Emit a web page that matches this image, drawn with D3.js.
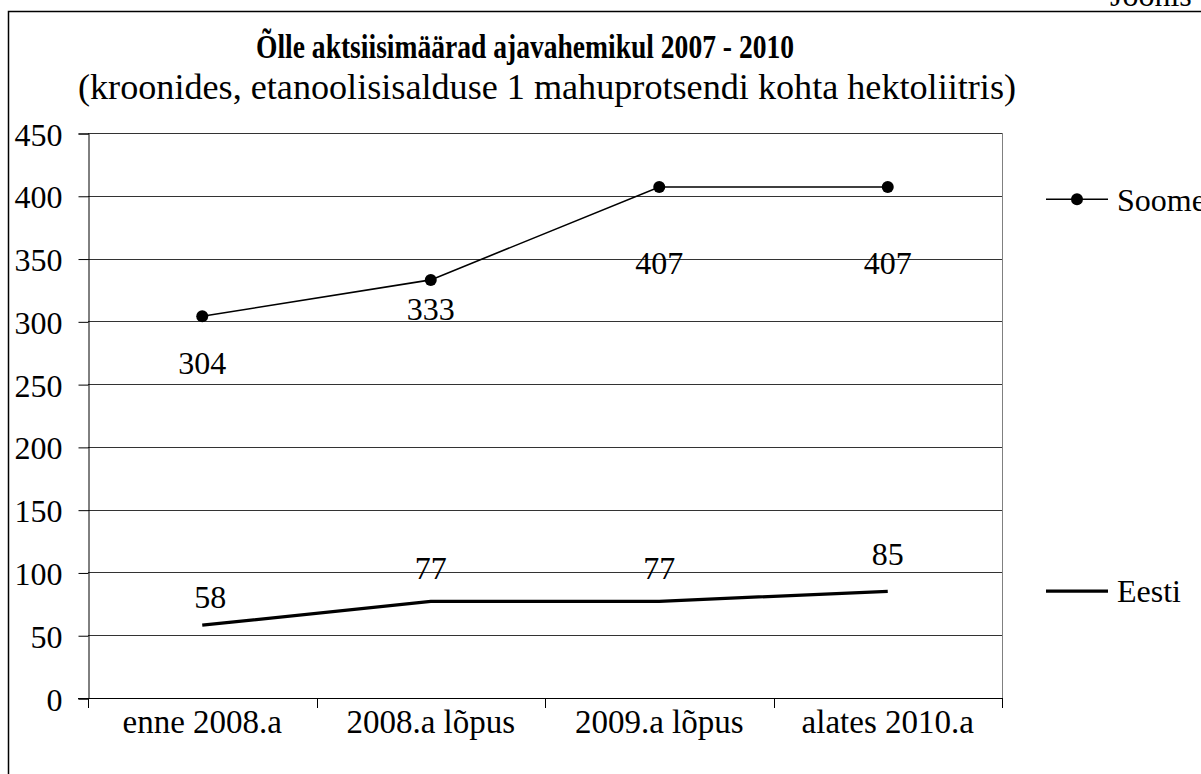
<!DOCTYPE html>
<html>
<head>
<meta charset="utf-8">
<script src="https://cdn.jsdelivr.net/npm/d3@7"></script>
<style>
  body { margin: 0; background: #fff; }
  svg text { font-family: "Liberation Serif", "Times New Roman", serif; fill: #000; }
</style>
</head>
<body>
<svg id="chart" width="1201" height="774"></svg>
<script>
(function(){
    'use strict';

    // data
    var categories = ['enne 2008.a', '2008.a lõpus', '2009.a lõpus', 'alates 2010.a'];
    var soome = [304, 333, 407, 407];
    var eesti = [58, 77, 77, 85];
    var yTicks = [0, 50, 100, 150, 200, 250, 300, 350, 400, 450];
    var seriesNames = ['Soome', 'Eesti'];

    // label placement, as Excel left it
    var soomeLabelDy = [46, 29, 76, 76];
    var eestiLabelDy = [-28, -34, -34, -37];
    var eestiLabelDx = [8, 0, 0, 0];

    var serif = '"Liberation Serif", "Times New Roman", serif';
    var plot = {left: 88, right: 1002, top: 133, bottom: 698};
    var svg = d3.select('#chart');

    // outer frame, cut by the window on the right and bottom
    svg.append('rect')
        .attr('x', 8.5).attr('y', 11.5)
        .attr('width', 1400).attr('height', 900)
        .attr('fill', 'none').attr('stroke', '#000').attr('stroke-width', 1.5);

    svg.append('text')
        .attr('x', 1110).attr('y', 6)
        .attr('font-family', serif)
        .style('font-size', '32px')
        .text('Joonis 1');

    var x = d3.scaleBand().domain(categories).range([plot.left, plot.right]);
    var y = d3.scaleLinear().domain([0, 450]).range([plot.bottom, plot.top]);

    function cx(d, i) { return x(categories[i]) + x.bandwidth() / 2; }

    // gridlines
    svg.append('g').selectAll('line').data(yTicks.slice(1))
        .enter().append('line')
        .attr('x1', plot.left).attr('x2', plot.right)
        .attr('y1', function(d) { return Math.round(y(d)) + 0.5; })
        .attr('y2', function(d) { return Math.round(y(d)) + 0.5; })
        .attr('stroke', '#333').attr('stroke-width', 1);

    // right border of plot area
    svg.append('line')
        .attr('x1', plot.right + 0.5).attr('x2', plot.right + 0.5)
        .attr('y1', plot.top).attr('y2', plot.bottom)
        .attr('stroke', '#808080').attr('stroke-width', 1);

    // y axis
    var yAxis = d3.axisLeft(y).tickValues(yTicks).tickSize(10).tickPadding(16);
    var yg = svg.append('g').attr('transform', 'translate(' + (plot.left + 0.5) + ',0.5)').call(yAxis);
    yg.attr('font-family', serif).attr('font-size', 32);
    yg.select('.domain').attr('stroke', '#000');
    yg.selectAll('.tick line').attr('stroke', '#000');
    yg.selectAll('.tick text')
        .attr('font-family', serif)
        .style('font-size', '32px')
        .attr('dy', '0.36em');

    // x axis
    var xg = svg.append('g');
    xg.append('line')
        .attr('x1', plot.left - 10).attr('x2', plot.right + 0.5)
        .attr('y1', plot.bottom + 0.5).attr('y2', plot.bottom + 0.5)
        .attr('stroke', '#000');
    var bounds = categories.map(function(c) { return x(c); }).concat([x.range()[1]]);
    xg.selectAll('.xtick').data(bounds).enter().append('line')
        .attr('x1', function(d) { return Math.round(d) + 0.5; })
        .attr('x2', function(d) { return Math.round(d) + 0.5; })
        .attr('y1', plot.bottom).attr('y2', plot.bottom + 10)
        .attr('stroke', '#000');
    xg.selectAll('.xlabel').data(categories).enter().append('text')
        .attr('x', function(d) { return x(d) + x.bandwidth() / 2; })
        .attr('y', plot.bottom + 35)
        .attr('text-anchor', 'middle')
        .attr('font-family', serif)
        .style('font-size', '33px')
        .text(function(d) { return d; });

    var line = d3.line()
        .x(cx)
        .y(function(d) { return y(d); });

    // Eesti
    svg.append('path').datum(eesti)
        .attr('d', line)
        .attr('fill', 'none').attr('stroke', '#000').attr('stroke-width', 3.2);
    svg.append('g').selectAll('text').data(eesti).enter().append('text')
        .attr('x', function(d, i) { return cx(d, i) + eestiLabelDx[i]; })
        .attr('y', function(d, i) { return y(d) + eestiLabelDy[i]; })
        .attr('dy', '0.35em')
        .attr('text-anchor', 'middle')
        .attr('font-family', serif)
        .style('font-size', '32px')
        .text(function(d) { return d; });

    // Soome
    svg.append('path').datum(soome)
        .attr('d', line)
        .attr('fill', 'none').attr('stroke', '#000').attr('stroke-width', 1.6);
    svg.append('g').selectAll('circle').data(soome).enter().append('circle')
        .attr('cx', cx)
        .attr('cy', function(d) { return y(d); })
        .attr('r', 6).attr('fill', '#000');
    svg.append('g').selectAll('text').data(soome).enter().append('text')
        .attr('x', cx)
        .attr('y', function(d, i) { return y(d) + soomeLabelDy[i]; })
        .attr('dy', '0.35em')
        .attr('text-anchor', 'middle')
        .attr('font-family', serif)
        .style('font-size', '32px')
        .text(function(d) { return d; });

    // titles (Excel squeezes the bold title horizontally)
    svg.append('text')
        .attr('x', 525).attr('y', 58)
        .attr('text-anchor', 'middle')
        .attr('font-family', serif)
        .attr('textLength', 538).attr('lengthAdjust', 'spacingAndGlyphs')
        .style('font-size', '33px').style('font-weight', 'bold')
        .text('Õlle aktsiisimäärad ajavahemikul 2007 - 2010');
    svg.append('text')
        .attr('x', 547).attr('y', 99)
        .attr('text-anchor', 'middle')
        .attr('font-family', serif)
        .attr('textLength', 938).attr('lengthAdjust', 'spacingAndGlyphs')
        .style('font-size', '36px')
        .text('(kroonides, etanoolisisalduse 1 mahuprotsendi kohta hektoliitris)');

    // legend
    var legendY = [y(soome[0]) - 117, y(eesti[0]) - 34];
    var lg = svg.append('g').selectAll('g').data(seriesNames).enter().append('g')
        .attr('transform', function(d, i) { return 'translate(1046,' + legendY[i] + ')'; });
    lg.append('line')
        .attr('x1', 0).attr('x2', 62).attr('y1', 0).attr('y2', 0)
        .attr('stroke', '#000')
        .attr('stroke-width', function(d, i) { return i === 0 ? 1.6 : 3.2; });
    lg.filter(function(d, i) { return i === 0; }).append('circle')
        .attr('cx', 31).attr('cy', 0).attr('r', 6).attr('fill', '#000');
    lg.append('text')
        .attr('x', 71).attr('dy', '0.35em')
        .attr('font-family', serif)
        .style('font-size', '32px')
        .text(function(d) { return d; });
})();
</script>
</body>
</html>
